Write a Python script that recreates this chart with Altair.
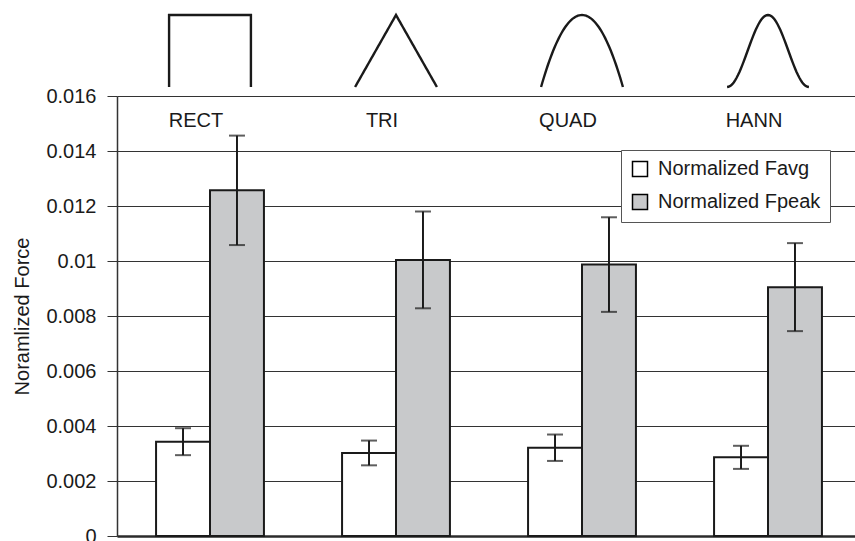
import altair as alt
import numpy as np
import pandas as pd

# Window types and the two normalized force measures (mean and error bar half-width)
windows = ["RECT", "TRI", "QUAD", "HANN"]
series_names = ["Normalized Favg", "Normalized Fpeak"]
favg = [0.00343, 0.00302, 0.00321, 0.00286]
favg_err = [0.00049, 0.00045, 0.00048, 0.00042]
fpeak = [0.01257, 0.01004, 0.00987, 0.00905]
fpeak_err = [0.00199, 0.00176, 0.00172, 0.00160]
y_ticks = [0, 0.002, 0.004, 0.006, 0.008, 0.01, 0.012, 0.014, 0.016]

FONT = "Liberation Sans"
INK = "#1a1a1a"
PLOT_W, PLOT_H = 738, 440
BAND_RANGE = [0, 744]

rows = []
for i, w in enumerate(windows):
    rows.append({"window": w, "series": series_names[0], "value": favg[i], "err": favg_err[i]})
    rows.append({"window": w, "series": series_names[1], "value": fpeak[i], "err": fpeak_err[i]})
df = pd.DataFrame(rows)
labels_df = pd.DataFrame({"window": windows})

# Icons of each window function drawn above the plot
t = np.linspace(-0.5, 0.5, 61)
shape_funcs = {
    "TRI": 1 - np.abs(2 * t),
    "QUAD": 1 - (2 * t) ** 2,
    "HANN": np.cos(np.pi * t) ** 2,
}
icon_w = 0.44
shape_rows = []
for i, w in enumerate(windows):
    if w == "RECT":
        pts = [(-0.5, 0.0), (-0.5, 1.0), (0.5, 1.0), (0.5, 0.0)]
    else:
        pts = list(zip(t, shape_funcs[w]))
    for k, (tx, h) in enumerate(pts):
        shape_rows.append({"window": w, "k": k, "xpos": i + 0.5 + tx * icon_w, "h": float(h)})
shapes_df = pd.DataFrame(shape_rows)

x_enc = alt.X(
    "window:N",
    sort=windows,
    scale=alt.Scale(range=BAND_RANGE, paddingInner=0.42, paddingOuter=0.21),
    axis=alt.Axis(labels=False, ticks=False, title=None, grid=False,
                  domainColor="#2b2b2b", domainWidth=2.5),
)
xoff = alt.XOffset("series:N", sort=series_names)
y_scale = alt.Scale(domain=[0, 0.016], nice=False, zero=True)

base = alt.Chart(df)

bars = base.mark_bar(stroke=INK, strokeWidth=2).encode(
    x=x_enc,
    xOffset=xoff,
    y=alt.Y(
        "value:Q",
        scale=y_scale,
        axis=alt.Axis(
            values=y_ticks, format="~g", title="Noramlized Force",
            tickSize=10, tickColor="#333333", tickWidth=1,
            domainColor="#333333", domainWidth=1.5,
            labelFontSize=20, labelFont=FONT, labelColor=INK, labelPadding=11,
            titleFontSize=20, titleFont=FONT, titleFontWeight="normal",
            titleColor=INK, titlePadding=13,
            grid=True, gridColor="#333333", gridWidth=1.1,
        ),
    ),
    fill=alt.Fill(
        "series:N",
        sort=series_names,
        scale=alt.Scale(domain=series_names, range=["#ffffff", "#c8c9cb"]),
        legend=alt.Legend(
            title=None, orient="none", legendX=504, legendY=54,
            fillColor="white", strokeColor="#555555", padding=9,
            symbolType="square", symbolSize=225, symbolStrokeColor="black",
            symbolStrokeWidth=1.5, labelFontSize=20, labelFont=FONT,
            labelColor=INK, labelOffset=8, rowPadding=11, labelLimit=400,
            labelExpr="datum.label + '\u2003'",
        ),
    ),
)

err_base = base.transform_calculate(
    lo="datum.value - datum.err", hi="datum.value + datum.err"
)
stems = err_base.mark_rule(color=INK, strokeWidth=2).encode(
    x=x_enc, xOffset=xoff, y=alt.Y("lo:Q", scale=y_scale), y2="hi:Q"
)
cap_hi = err_base.mark_tick(color=INK, size=16, thickness=2).encode(
    x=x_enc, xOffset=xoff, y=alt.Y("hi:Q", scale=y_scale)
)
cap_lo = err_base.mark_tick(color=INK, size=16, thickness=2).encode(
    x=x_enc, xOffset=xoff, y=alt.Y("lo:Q", scale=y_scale)
)

names = alt.Chart(labels_df).mark_text(
    font=FONT, fontSize=20, color=INK, baseline="alphabetic", dx=-14
).encode(x=alt.X("window:N", sort=windows), y=alt.value(31), text="window:N")

main = alt.layer(bars, stems, cap_hi, cap_lo, names)

icons = alt.Chart(shapes_df).mark_line(color=INK, strokeWidth=2.4, clip=False).encode(
    x=alt.X("xpos:Q", scale=alt.Scale(domain=[0, 4], range=BAND_RANGE), axis=None),
    y=alt.Y("h:Q", scale=alt.Scale(domain=[0, 1], range=[-9, -81]), axis=None),
    detail="window:N",
    order="k:Q",
)

chart = (
    alt.layer(main, icons)
    .resolve_scale(x="independent", y="independent")
    .properties(
        width=PLOT_W,
        height=PLOT_H,
        autosize=alt.AutoSizeParams(type="none"),
        padding={"left": 117, "top": 96, "right": 0, "bottom": 5},
        background="white",
    )
    .configure_view(stroke=None)
    .configure(font=FONT)
)

chart.save("out.html", embed_options={"renderer": "svg", "actions": False})
